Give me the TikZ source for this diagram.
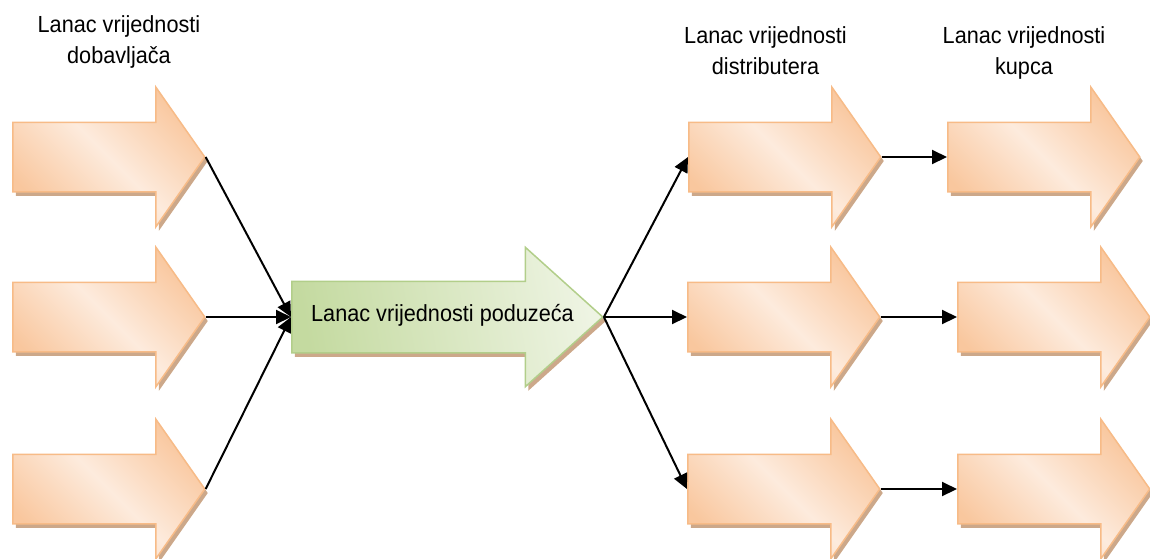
\documentclass[tikz,border=0pt]{standalone}
\usepackage{fontspec}
\setmainfont[FakeStretch=0.93]{Liberation Sans}
\usetikzlibrary{arrows.meta}
\usetikzlibrary{shapes.arrows}
\usetikzlibrary{shadows}
\definecolor{peachline}{RGB}{247,187,135}
\definecolor{peachdark}{RGB}{249,199,158}
\definecolor{peachlight}{RGB}{253,235,221}
\definecolor{sageline}{RGB}{178,206,138}
\definecolor{sagedark}{RGB}{196,218,160}
\definecolor{sagelight}{RGB}{238,244,227}
\definecolor{shadowbrown}{RGB}{204,168,138}
\tikzset{vcarrow/.style = {single arrow, draw=peachline, line width=0.75pt,
                           inner xsep=0, inner ysep=17pt, anchor=tail,
                           minimum height=96pt, minimum width=69pt,
                           single arrow head extend=17.5pt, single arrow tip angle=110,
                           left color=peachdark, right color=peachdark,
                           middle color=peachlight, shading angle=135,
                           drop shadow={shadow xshift=1.5pt, shadow yshift=-2pt,
                                        fill=shadowbrown, opacity=1}}}
\tikzset{firmarrow/.style = {vcarrow, draw=sageline, inner ysep=17.5pt,
                             minimum height=155.5pt, minimum width=69pt,
                             single arrow head extend=17pt, single arrow tip angle=84,
                             left color=sagedark, right color=sagelight,
                             shading angle=100}}
\tikzset{link/.style = {-{Triangle[length=7.5pt,width=7pt]}, line width=1pt}}
\tikzset{chaintext/.style = {align=center, inner sep=0,
                             font=\fontsize{11.65}{15.8}\selectfont}}

\begin{document}
\begin{tikzpicture}[x=0.5pt, y=-0.5pt]
      \useasboundingbox (0, 0) rectangle (1150, 558);

      \node [chaintext, anchor=north] (suplbl) at (119, 15) {Lanac vrijednosti\\dobavljača};
      \node [chaintext, anchor=north] (dislbl) at (765.5, 26) {Lanac vrijednosti\\distributera};
      \node [chaintext, anchor=north] (buylbl) at (1024, 26) {Lanac vrijednosti\\kupca};

      \node [vcarrow] (sup1) at (12, 157) {};
      \node [vcarrow] (sup2) at (12, 317) {};
      \node [vcarrow] (sup3) at (12, 489) {};

      \node [firmarrow] (firm) at (291, 317) {};
      \node [chaintext, anchor=base] (firmtxt) at (442.5, 321.7) {Lanac vrijednosti poduzeća};

      \node [vcarrow] (dis1) at (688, 157) {};
      \node [vcarrow] (dis2) at (687, 317) {};
      \node [vcarrow] (dis3) at (687, 489) {};

      \node [vcarrow] (buy1) at (947, 157) {};
      \node [vcarrow] (buy2) at (957, 317) {};
      \node [vcarrow] (buy3) at (957, 489) {};

      \draw [link] (sup1.tip) -- (firm.tail);
      \draw [link] (sup2.tip) -- (firm.tail);
      \draw [link] (sup3.tip) -- (firm.tail);

      \draw [link] (firm.tip) -- (dis1.tail);
      \draw [link] (firm.tip) -- (dis2.tail);
      \draw [link] (firm.tip) -- (dis3.tail);

      \draw [link] (dis1.tip) -- (buy1.tail);
      \draw [link] (dis2.tip) -- (buy2.tail);
      \draw [link] (dis3.tip) -- (buy3.tail);
    \end{tikzpicture}
\end{document}
